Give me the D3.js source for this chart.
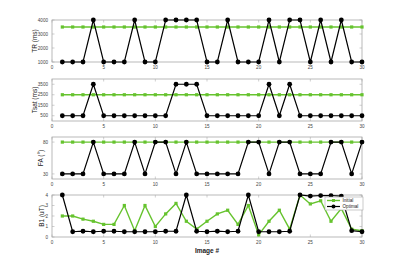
<!DOCTYPE html>
<html>
<head>
<meta charset="utf-8">
<script src="https://cdn.jsdelivr.net/npm/d3@7"></script>
<style>
  html, body { margin: 0; padding: 0; background: #fff; }
  svg { display: block; font-family: "Liberation Sans", Arial, sans-serif; }
</style>
</head>
<body>
<svg id="chart" width="400" height="267"></svg>
<script>
// image numbers 1..30
var imageNum = [1,2,3,4,5,6,7,8,9,10,11,12,13,14,15,16,17,18,19,20,21,22,23,24,25,26,27,28,29,30];
var xTicks = [0, 5, 10, 15, 20, 25, 30];

var trInitial = [3500,3500,3500,3500,3500,3500,3500,3500,3500,3500,3500,3500,3500,3500,3500,
                 3500,3500,3500,3500,3500,3500,3500,3500,3500,3500,3500,3500,3500,3500,3500];
var trOptimal = [1000,1000,1000,4000,1000,1000,1000,4000,1000,1000,4000,4000,4000,4000,1000,
                 1000,4000,1000,1000,1000,4000,1000,4000,4000,1000,4000,1000,4000,1000,1000];

var tsatInitial = [2500,2500,2500,2500,2500,2500,2500,2500,2500,2500,2500,2500,2500,2500,2500,
                   2500,2500,2500,2500,2500,2500,2500,2500,2500,2500,2500,2500,2500,2500,2500];
var tsatOptimal = [500,500,500,3500,500,500,500,500,500,500,500,3500,3500,3500,500,
                   500,500,500,500,500,3500,500,3500,500,500,500,500,500,500,500];

var faInitial = [80,80,80,80,80,80,80,80,80,80,80,80,80,80,80,
                 80,80,80,80,80,80,80,80,80,80,80,80,80,80,80];
var faOptimal = [30,30,30,80,30,30,30,80,30,80,80,30,80,30,30,
                 30,30,30,80,80,30,80,80,30,30,30,80,80,30,80];

var b1Initial = [2.0,2.0,1.7,1.5,1.2,1.2,3.0,0.6,3.0,1.0,2.2,3.2,1.5,0.75,1.5,
                 2.2,2.55,1.2,3.0,0.2,1.5,2.55,0.75,4.0,3.15,3.45,1.5,2.7,0.75,0.6];
var b1Optimal = [4.0,0.5,0.55,0.5,0.55,0.55,0.5,0.5,0.5,0.5,0.55,0.55,4.0,0.55,0.5,
                 0.55,0.5,0.55,4.0,0.5,0.5,0.5,0.55,4.0,3.9,3.95,3.95,3.9,0.6,0.5];

var legendLabels = ["Initial", "Optimal"];

var green = "#66c32e";

var panels = [
  { label: "TR (ms)",   top: 20,  domain: [1000, 4000], ticks: [1000, 2000, 3000, 4000], initial: trInitial,   optimal: trOptimal,   labelX: 37 },
  { label: "Tsat (ms)", top: 79,  domain: [0, 4000],    ticks: [500, 1500, 2500, 3500],  initial: tsatInitial, optimal: tsatOptimal, labelX: 37 },
  { label: "FA (\u00B0)", top: 137, domain: [22, 88],   ticks: [30, 80],                 initial: faInitial,   optimal: faOptimal,   labelX: 42.5 },
  { label: "B1 (uT)",   top: 195, domain: [0, 4],       ticks: [0, 1, 2, 3, 4],          initial: b1Initial,   optimal: b1Optimal,   labelX: 44 }
];

var svg = d3.select("#chart");
var left = 52, right = 362, ph = 42;

var x = d3.scaleLinear().domain([0, 30]).range([left, right]);

panels.forEach(function(p, idx) {
  var y = d3.scaleLinear().domain(p.domain).range([p.top + ph, p.top]);
  var g = svg.append("g");

  // ticks (inside, all four sides)
  var tk = g.append("g").attr("stroke", "#b0b0b0").attr("stroke-width", 0.6);
  xTicks.forEach(function(t) {
    tk.append("line").attr("x1", x(t)).attr("x2", x(t)).attr("y1", p.top + ph).attr("y2", p.top + ph - 2.5);
    tk.append("line").attr("x1", x(t)).attr("x2", x(t)).attr("y1", p.top).attr("y2", p.top + 2.5);
  });
  p.ticks.forEach(function(t) {
    tk.append("line").attr("x1", left).attr("x2", left + 2.5).attr("y1", y(t)).attr("y2", y(t));
    tk.append("line").attr("x1", right).attr("x2", right - 2.5).attr("y1", y(t)).attr("y2", y(t));
  });

  // box
  g.append("rect")
    .attr("x", left).attr("y", p.top)
    .attr("width", right - left).attr("height", ph)
    .attr("fill", "none").attr("stroke", "#a8a8a8").attr("stroke-width", 0.8);

  // tick labels
  g.selectAll(".xt").data(xTicks).enter().append("text")
    .attr("x", function(d) { return x(d); })
    .attr("y", p.top + ph + 6.5)
    .attr("text-anchor", "middle")
    .attr("font-size", 4.6).attr("fill", "#444")
    .text(function(d) { return d; });
  g.selectAll(".yt").data(p.ticks).enter().append("text")
    .attr("x", left - 4)
    .attr("y", function(d) { return y(d) + 1.6; })
    .attr("text-anchor", "end")
    .attr("font-size", 4.6).attr("fill", "#444")
    .text(function(d) { return d; });

  // y label
  g.append("text")
    .attr("transform", "translate(" + p.labelX + "," + (p.top + ph / 2) + ") rotate(-90)")
    .attr("text-anchor", "middle")
    .attr("font-size", 6.5).attr("fill", "#222")
    .text(p.label);

  var line = d3.line()
    .x(function(d, i) { return x(imageNum[i]); })
    .y(function(d) { return y(d); });

  // initial series
  g.append("path").datum(p.initial)
    .attr("d", line).attr("fill", "none")
    .attr("stroke", green).attr("stroke-width", 1.4);
  g.selectAll(".sq").data(p.initial).enter().append("rect")
    .attr("x", function(d, i) { return x(imageNum[i]) - 1.6; })
    .attr("y", function(d) { return y(d) - 1.6; })
    .attr("width", 3.2).attr("height", 3.2)
    .attr("fill", green);

  // optimal series
  g.append("path").datum(p.optimal)
    .attr("d", line).attr("fill", "none")
    .attr("stroke", "#000").attr("stroke-width", 1.2);
  g.selectAll(".ci").data(p.optimal).enter().append("circle")
    .attr("cx", function(d, i) { return x(imageNum[i]); })
    .attr("cy", function(d) { return y(d); })
    .attr("r", 2.4)
    .attr("fill", "#000");
});

// x label
svg.append("text")
  .attr("x", (left + right) / 2).attr("y", 253)
  .attr("text-anchor", "middle")
  .attr("font-size", 6.5).attr("font-weight", "bold").attr("fill", "#222")
  .text("Image #");

// legend
var lg = svg.append("g").attr("transform", "translate(325,197)");
lg.append("rect").attr("width", 38).attr("height", 13)
  .attr("fill", "#fff").attr("stroke", "#a8a8a8").attr("stroke-width", 0.6);
var legColors = [green, "#000"];
legendLabels.forEach(function(name, i) {
  var yy = 3.5 + i * 6;
  lg.append("line").attr("x1", 2).attr("x2", 15).attr("y1", yy).attr("y2", yy)
    .attr("stroke", legColors[i]).attr("stroke-width", i ? 1.2 : 1.4);
  if (i === 0) {
    lg.append("rect").attr("x", 7).attr("y", yy - 1.5).attr("width", 3).attr("height", 3).attr("fill", green);
  } else {
    lg.append("circle").attr("cx", 8.5).attr("cy", yy).attr("r", 2).attr("fill", "#000");
  }
  lg.append("text").attr("x", 17.5).attr("y", yy + 1.6)
    .attr("font-size", 4.6).attr("fill", "#222").text(name);
});
</script>
</body>
</html>
